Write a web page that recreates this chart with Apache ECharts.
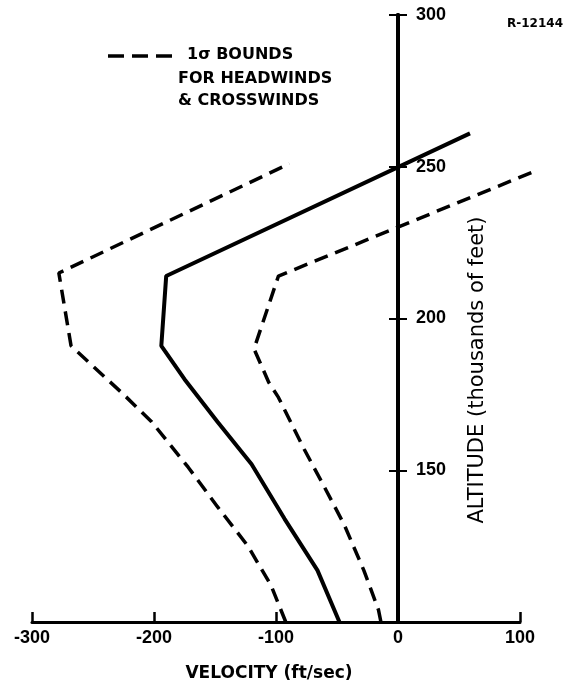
<!DOCTYPE html>
<html><head><meta charset="utf-8">
<script src="https://cdn.jsdelivr.net/npm/echarts@6/dist/echarts.min.js"></script>
<style>html,body{margin:0;padding:0;background:#fff}#c{width:569px;height:692px}</style>
</head><body><div id="c"></div>
<script>
// Mean wind profile (solid)
const meanVel = [-48, -66, -93, -120, -148, -175, -194, -190, 59];
const meanAlt = [100, 117, 134, 152, 166, 180, 191, 214, 261];
// 1-sigma lower bound (left dashed)
const lowVel = [-92, -104, -123, -148, -172, -202, -225, -268, -278, -89];
const lowAlt = [100, 112, 125, 138, 151, 166, 175, 191, 215, 251];
// 1-sigma upper bound (right dashed)
const highVel = [-14, -16, -28, -44, -61, -77, -98, -106, -118, -98, 115];
const highAlt = [100, 104, 117, 132, 145, 157, 174, 179, 190, 214, 249];
// Axis ticks
const xLabels = [-300, -200, -100, 0, 100];
const xTickMarks = [-300, -200, -100, 100];
const yLabels = [150, 200, 250, 300];
const xPlotMax = 120;   // data area extends a little past the drawn axis end (100)

const pairs = (xs, ys) => xs.map((x, i) => [x, ys[i]]);
const numFont = {fontFamily: 'Liberation Sans', fontWeight: 'bold', fontSize: 18, color: '#000'};

const W = 569, gridL = 32, gridR = 49;
const axisW = W - gridL - gridR;
const plotR = W - gridL - axisW * (xPlotMax - xLabels[0]) / (xLabels[4] - xLabels[0]);

const chart = echarts.init(document.getElementById('c'), null, {renderer: 'canvas'});
const yAxisBase = {
  type: 'value', min: 100, max: 300, interval: 50, position: 'left', gridIndex: 1,
  axisLine: {onZero: false, lineStyle: {color: '#000', width: 4}},
  splitLine: {show: false}
};
chart.setOption({
  backgroundColor: '#fff',
  animation: false,
  grid: [
    {left: gridL, right: plotR, top: 15, bottom: 70, containLabel: false},
    {left: gridL, right: gridR, top: 15, bottom: 70, containLabel: false}
  ],
  xAxis: [{
    type: 'value', gridIndex: 0, min: -300, max: xPlotMax, show: false
  }, {
    type: 'value', gridIndex: 1, min: -300, max: 100, interval: 100, position: 'bottom',
    axisLine: {onZero: false, lineStyle: {color: '#000', width: 3}},
    axisTick: {show: true, inside: true, length: 10, customValues: xTickMarks, lineStyle: {color: '#000', width: 2.5}},
    axisLabel: {customValues: xLabels, margin: 7, ...numFont},
    splitLine: {show: false}
  }],
  yAxis: [{
    type: 'value', gridIndex: 0, min: 100, max: 300, show: false
  }, Object.assign({}, yAxisBase, {
    axisTick: {show: true, inside: true, length: 9, customValues: yLabels, lineStyle: {color: '#000', width: 2}},
    axisLabel: {inside: true, customValues: yLabels, margin: 18, formatter: v => (v === 100 ? '' : v), ...numFont}
  }), Object.assign({}, yAxisBase, {
    axisTick: {show: true, inside: false, length: 9, customValues: yLabels, lineStyle: {color: '#000', width: 2}},
    axisLabel: {show: false}
  })],
  graphic: [
    {type: 'line', shape: {x1: 108, y1: 56, x2: 180, y2: 56}, style: {stroke: '#000', lineWidth: 3.5, lineDash: [16, 8]}},
    {type: 'text', left: 187, top: 47, style: {text: '1\u03c3 BOUNDS', fill: '#000', font: 'bold 16px "DejaVu Sans"'}},
    {type: 'text', left: 178, top: 68, style: {text: 'FOR HEADWINDS\n& CROSSWINDS', fill: '#000', font: 'bold 16px "DejaVu Sans"', lineHeight: 22}},
    {type: 'text', x: 535, y: 24, style: {text: 'R-12144', fill: '#000', font: 'bold 12px "DejaVu Sans"', textAlign: 'center', textVerticalAlign: 'middle'}},
    {type: 'text', x: 269, y: 674, style: {text: 'VELOCITY (ft/sec)', fill: '#000', font: 'bold 17px "DejaVu Sans"', textAlign: 'center', textVerticalAlign: 'middle'}},
    {type: 'text', x: 478, y: 370, rotation: Math.PI / 2, style: {text: 'ALTITUDE (thousands of feet)', fill: '#000', font: '21px "DejaVu Sans"', textAlign: 'center', textVerticalAlign: 'middle'}}
  ],
  series: [
    {type: 'line', name: 'Mean', xAxisIndex: 0, yAxisIndex: 0, data: pairs(meanVel, meanAlt), symbol: 'none', clip: false,
     lineStyle: {color: '#000', width: 4, type: 'solid'}},
    {type: 'line', name: '1\u03c3 low', xAxisIndex: 0, yAxisIndex: 0, data: pairs(lowVel, lowAlt), symbol: 'none', clip: false,
     lineStyle: {color: '#000', width: 3.5, type: [14, 8]}},
    {type: 'line', name: '1\u03c3 high', xAxisIndex: 0, yAxisIndex: 0, data: pairs(highVel, highAlt), symbol: 'none', clip: false,
     lineStyle: {color: '#000', width: 3.5, type: [14, 8]}}
  ]
});
// Place the altitude axis at velocity = 0, using the visible x scale
const pxZero = chart.convertToPixel({xAxisIndex: 1}, 0);
const pxMin = chart.convertToPixel({xAxisIndex: 1}, xLabels[0]);
const off = -(pxZero - pxMin);
chart.setOption({yAxis: [{}, {offset: off}, {offset: off}]});
</script></body></html>
